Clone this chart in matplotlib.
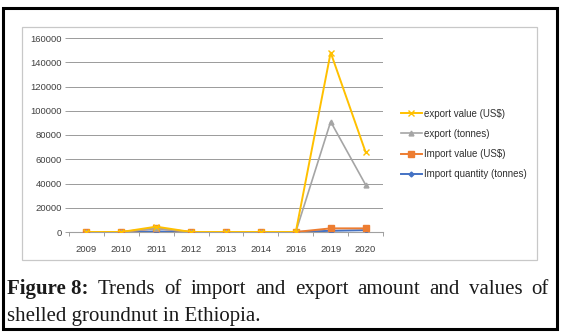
import matplotlib
matplotlib.use("Agg")
import matplotlib.pyplot as plt
from matplotlib.patches import Rectangle
import numpy as np

years = ["2009", "2010", "2011", "2012", "2013", "2014", "2016", "2019", "2020"]
export_value = [0, 0, 4400, 0, 0, 0, 0, 148000, 66000]
export_tonnes = [0, 0, 3000, 0, 0, 0, 0, 91000, 39000]
import_value = [0, 0, 3000, 0, 0, 0, 0, 3000, 3000]
import_qty = [0, 0, 500, 0, 0, 0, 0, 1000, 1500]
yticks = [0, 20000, 40000, 60000, 80000, 100000, 120000, 140000, 160000]

W, H = 569, 335
fig = plt.figure(figsize=(W / 100, H / 100), dpi=100)
fig.patch.set_facecolor("white")

def fx(px):
    return px / W

def fy(py):
    return 1 - py / H

# outer black frame
fig.patches.append(Rectangle((fx(3), fy(329)), fx(554), (321) / H, transform=fig.transFigure,
                             fill=False, edgecolor="black", linewidth=2.2))
# inner chart frame
fig.patches.append(Rectangle((fx(22), fy(260)), fx(515), (233) / H, transform=fig.transFigure,
                             fill=False, edgecolor="#c8c8c8", linewidth=0.9))

ax = fig.add_axes([fx(69), fy(232), fx(383 - 69), (232 - 38) / H])
x = np.arange(len(years))
font = "Liberation Sans"

l4, = ax.plot(x, import_qty, color="#4472C4", marker="D", markersize=2.5, linewidth=1.4, zorder=3,
              label="Import quantity (tonnes)")
l3, = ax.plot(x, import_value, color="#ED7D31", marker="s", markersize=4, linewidth=1.4, zorder=4,
              label="Import value (US$)")
l2, = ax.plot(x, export_tonnes, color="#A5A5A5", marker="^", markersize=3.5, linewidth=1.2, zorder=5,
              label="export (tonnes)")
l1, = ax.plot(x, export_value, color="#FFC000", marker="x", markersize=4, markeredgewidth=1, linewidth=1.4,
              zorder=6, label="export value (US$)")

ax.set_xlim(-0.5, len(years) - 0.5)
ax.set_ylim(0, 160000)
ax.set_yticks(yticks)
ax.set_yticklabels([str(v) for v in yticks], fontsize=6.8, family=font, color="#404040")
ax.set_xticks(x)
ax.set_xticklabels(years, fontsize=6.8, family=font, color="#404040")
ax.set_xticks(np.arange(len(years) + 1) - 0.5, minor=True)
ax.tick_params(axis="x", which="major", length=0, pad=9)
ax.tick_params(axis="x", which="minor", length=3, color="#a0a0a0", width=0.7)
ax.tick_params(axis="y", length=3, color="#a0a0a0", width=0.7, pad=2)
ax.grid(axis="y", color="#9a9a9a", linewidth=0.7)
ax.set_axisbelow(True)
for s in ["top", "right", "left"]:
    ax.spines[s].set_visible(False)
ax.spines["bottom"].set_color("#a0a0a0")
ax.spines["bottom"].set_linewidth(0.8)

leg = fig.legend([l1, l2, l3, l4], [l.get_label() for l in [l1, l2, l3, l4]],
                 loc="center left", bbox_to_anchor=(fx(392), fy(144)), frameon=False,
                 prop={"family": font, "size": 7}, handlelength=2.2, handletextpad=0.2,
                 labelspacing=1.05, labelcolor="#303030")

# caption
serif = "Liberation Serif"
fs = 15
line1 = ["Figure 8:", "Trends", "of", "import", "and", "export", "amount", "and", "values", "of"]
y1 = fy(294)
y2 = fy(321)
fig.canvas.draw()
renderer = fig.canvas.get_renderer()
texts = []
widths = []
for i, w in enumerate(line1):
    t = fig.text(0, y1, w, fontsize=fs, family=serif, fontweight="bold" if i == 0 else "normal",
                 va="baseline", ha="left", color="#1a1a1a")
    bb = t.get_window_extent(renderer)
    texts.append(t)
    widths.append(bb.width)
left, right = 7, 549
gap = (right - left - sum(widths)) / (len(line1) - 1)
pos = left
for t, w in zip(texts, widths):
    t.set_x(fx(pos))
    pos += w + gap
fig.text(fx(7), y2, "shelled groundnut in Ethiopia.", fontsize=fs, family=serif, va="baseline",
         ha="left", color="#1a1a1a")

fig.savefig("out.png", dpi=100)
